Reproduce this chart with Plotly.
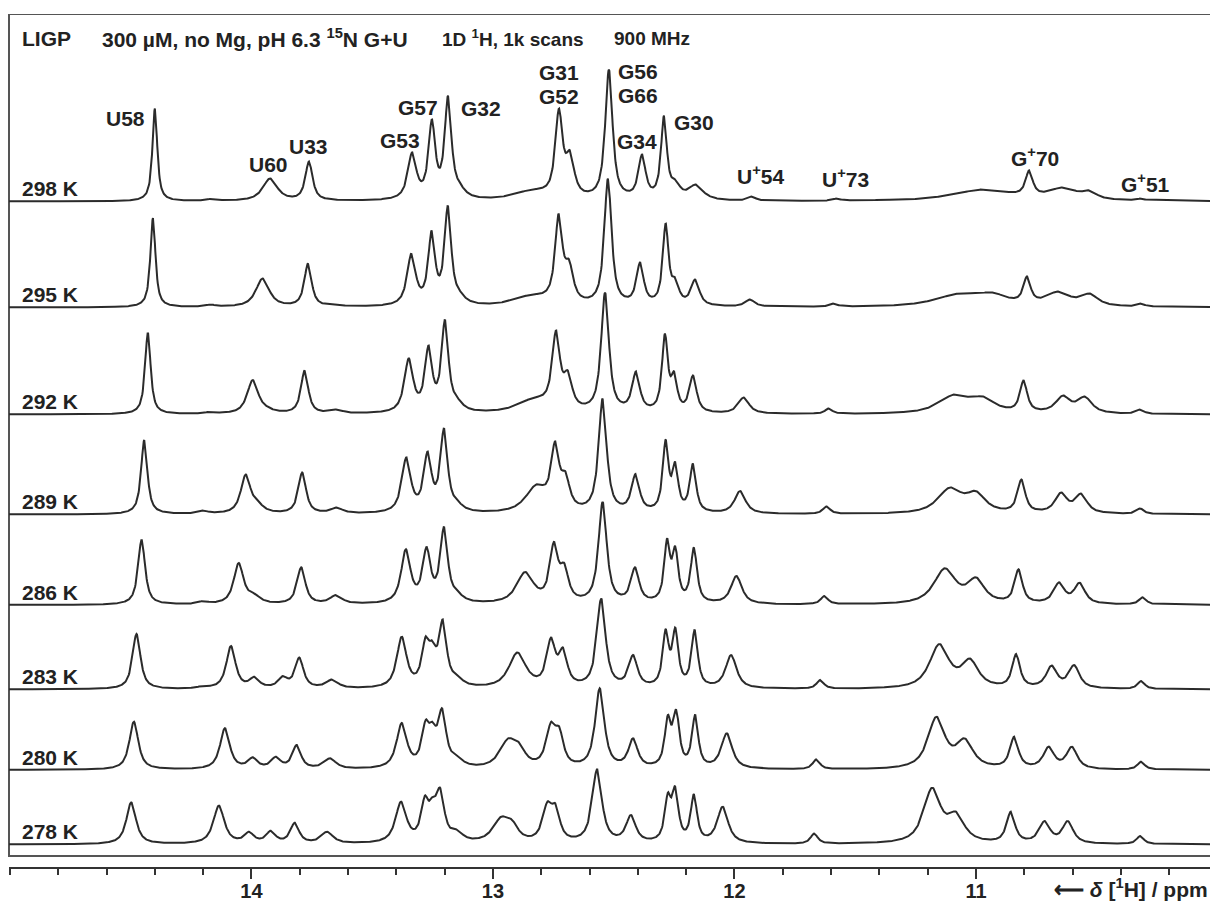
import numpy as np
import plotly.graph_objects as go

# ---------------- data: peak tables (ppm, apparent height above baseline, FWHM ppm) ----------------
temperatures = ["298 K", "295 K", "292 K", "289 K", "286 K", "283 K", "280 K", "278 K"]

peaks_298 = [
    (14.400, 93, 0.020), (14.160, 3, 0.040), (13.923, 23, 0.060), (13.762, 40, 0.030),
    (13.335, 49, 0.035), (13.253, 82, 0.028), (13.186, 106, 0.028), (13.140, 20, 0.050),
    (12.840, 12, 0.150), (12.727, 93, 0.030), (12.681, 51, 0.035), (12.520, 132, 0.030),
    (12.383, 47, 0.030), (12.292, 86, 0.024), (12.245, 22, 0.040), (12.160, 17, 0.060),
    (11.928, 5, 0.030), (11.576, 3, 0.030), (11.385, 2, 0.030), (10.970, 12, 0.250),
    (10.780, 31, 0.030), (10.640, 14, 0.120), (10.530, 11, 0.060), (10.317, 3, 0.030),
]
peaks_295 = [
    (14.408, 89.5, 0.021), (14.170, 3, 0.040), (13.954, 29, 0.055), (13.766, 44, 0.030),
    (13.650, 3, 0.050), (13.338, 54, 0.035), (13.254, 77, 0.028), (13.187, 101.5, 0.028),
    (13.140, 18, 0.050), (12.840, 13, 0.150), (12.728, 94, 0.030), (12.685, 48, 0.035),
    (12.524, 129, 0.030), (12.391, 45, 0.030), (12.285, 84, 0.024), (12.245, 30, 0.030),
    (12.163, 28, 0.035), (11.936, 8, 0.040), (11.588, 4, 0.030), (11.070, 14, 0.200),
    (10.930, 15, 0.120), (10.789, 31, 0.030), (10.660, 16, 0.100), (10.530, 14, 0.070),
    (10.317, 4, 0.030),
]
peaks_292 = [
    (14.429, 81.5, 0.023), (14.170, 3, 0.040), (13.995, 34.5, 0.045), (13.940, 9, 0.060),
    (13.780, 44, 0.030), (13.646, 5, 0.050), (13.349, 56, 0.036), (13.267, 69, 0.030),
    (13.199, 94.5, 0.029), (13.150, 18, 0.050), (12.830, 17, 0.140), (12.739, 84, 0.032),
    (12.690, 44, 0.035), (12.536, 122, 0.032), (12.408, 43, 0.032), (12.288, 81, 0.024),
    (12.250, 43, 0.025), (12.172, 39, 0.030), (11.962, 17, 0.045), (11.610, 6, 0.030),
    (11.090, 20, 0.130), (10.970, 18, 0.100), (10.803, 34, 0.030), (10.640, 19, 0.060),
    (10.550, 18, 0.060), (10.320, 5, 0.030),
]
peaks_289 = [
    (14.444, 74.5, 0.026), (14.200, 4, 0.040), (14.024, 40, 0.040), (13.975, 14, 0.050),
    (13.790, 42, 0.032), (13.647, 7, 0.050), (13.359, 57, 0.037), (13.271, 63, 0.032),
    (13.203, 86, 0.030), (13.150, 15, 0.050), (12.820, 30, 0.090), (12.743, 73, 0.033),
    (12.700, 43, 0.035), (12.546, 116, 0.033), (12.410, 40.5, 0.033), (12.285, 75, 0.024),
    (12.245, 53, 0.024), (12.172, 51, 0.026), (11.977, 23.5, 0.045), (11.619, 8, 0.030),
    (11.108, 27, 0.100), (11.000, 23.5, 0.080), (10.812, 35, 0.032), (10.648, 22, 0.050),
    (10.565, 21, 0.050), (10.320, 6, 0.030),
]
peaks_286 = [
    (14.455, 65, 0.029), (14.200, 4, 0.040), (14.053, 42, 0.040), (13.990, 12, 0.050),
    (13.794, 37.7, 0.034), (13.650, 10, 0.050), (13.361, 55.7, 0.038), (13.275, 58, 0.033),
    (13.203, 78, 0.031), (13.150, 15, 0.050), (12.867, 33, 0.070), (12.748, 63, 0.034),
    (12.705, 42, 0.035), (12.546, 103, 0.034), (12.412, 37.7, 0.034), (12.279, 66.7, 0.024),
    (12.245, 59, 0.024), (12.168, 57.7, 0.026), (11.992, 29, 0.045), (11.628, 9, 0.030),
    (11.129, 36.7, 0.090), (11.000, 27.7, 0.070), (10.824, 35.7, 0.032), (10.656, 22.7, 0.045),
    (10.571, 22.3, 0.045), (10.310, 7.7, 0.030),
]
peaks_283 = [
    (14.476, 55.5, 0.033), (14.200, 4, 0.040), (14.085, 43.5, 0.038), (13.988, 12.8, 0.040),
    (13.870, 13.5, 0.040), (13.802, 32, 0.035), (13.667, 10, 0.050), (13.378, 52.8, 0.040),
    (13.279, 52.8, 0.032), (13.250, 49, 0.030), (13.208, 70, 0.032), (13.150, 15, 0.050),
    (12.899, 37, 0.070), (12.760, 52, 0.036), (12.710, 42, 0.035), (12.552, 91, 0.036),
    (12.420, 34.5, 0.036), (12.285, 60.5, 0.025), (12.245, 62, 0.025), (12.165, 59.5, 0.026),
    (12.014, 34.5, 0.045), (11.645, 9.5, 0.030), (11.152, 45.5, 0.080), (11.025, 31, 0.070),
    (10.834, 35.5, 0.032), (10.687, 24, 0.045), (10.594, 24.5, 0.045), (10.316, 8.5, 0.030),
]
peaks_280 = [
    (14.487, 48.3, 0.037), (14.110, 41.7, 0.040), (13.995, 12.7, 0.040), (13.900, 13.3, 0.040),
    (13.813, 25, 0.036), (13.675, 11.7, 0.050), (13.378, 47, 0.042), (13.279, 50, 0.032),
    (13.250, 48.3, 0.030), (13.211, 61.7, 0.034), (13.150, 15, 0.050), (12.937, 31.7, 0.070),
    (12.890, 27, 0.050), (12.760, 48, 0.040), (12.725, 43, 0.035), (12.558, 81.7, 0.038),
    (12.420, 31.7, 0.038), (12.276, 55, 0.026), (12.241, 60.7, 0.026), (12.163, 55, 0.026),
    (12.032, 36.7, 0.045), (11.661, 10.7, 0.030), (11.164, 53.3, 0.070), (11.047, 31.7, 0.070),
    (10.842, 33.3, 0.035), (10.699, 23.3, 0.045), (10.603, 23.3, 0.045), (10.316, 8.3, 0.030),
]
peaks_278 = [
    (14.498, 42, 0.040), (14.135, 38.8, 0.045), (14.010, 12.8, 0.040), (13.920, 13.8, 0.040),
    (13.821, 21.8, 0.036), (13.687, 12.8, 0.050), (13.381, 42.8, 0.045), (13.282, 48.8, 0.032),
    (13.250, 47.8, 0.030), (13.219, 56.8, 0.035), (13.150, 15, 0.050), (12.966, 27.8, 0.070),
    (12.920, 24.5, 0.050), (12.775, 42.8, 0.040), (12.740, 40.5, 0.035), (12.569, 75, 0.040),
    (12.429, 29.5, 0.040), (12.276, 51.8, 0.026), (12.245, 58.5, 0.026), (12.168, 50.5, 0.026),
    (12.049, 37.8, 0.045), (11.670, 11, 0.030), (11.182, 56.8, 0.070), (11.083, 32.8, 0.070),
    (10.856, 32.8, 0.035), (10.716, 23.5, 0.045), (10.620, 23.5, 0.045), (10.320, 8.5, 0.030),
]
peak_tables = [peaks_298, peaks_295, peaks_292, peaks_289, peaks_286, peaks_283, peaks_280, peaks_278]

# stacking offsets of each trace's baseline (plot height units)
baseline_offsets = [665.5, 559.5, 452.5, 352.5, 262.0, 177.5, 97.0, 22.5]

# peak assignment labels: (text, ppm, height)
peak_labels = [
    ("U58", 14.523, 749), ("U60", 13.928, 703), ("U33", 13.762, 721),
    ("G53", 13.385, 727), ("G57", 13.311, 760), ("G32", 13.050, 759),
    ("G31", 12.727, 795), ("G52", 12.727, 771), ("G56", 12.400, 796),
    ("G66", 12.400, 772), ("G34", 12.404, 726), ("G30", 12.168, 745),
    ("U<sup>+</sup>54", 11.894, 692), ("U<sup>+</sup>73", 11.542, 689),
    ("G<sup>+</sup>70", 10.756, 710), ("G<sup>+</sup>51", 10.300, 684),
]
# header: (text, ppm of left edge, font size)
header_texts = [
    ("LIGP", 14.958, 21), ("300 µM, no Mg, pH 6.3 <sup>15</sup>N G+U", 14.627, 21),
    ("1D <sup>1</sup>H, 1k scans", 13.219, 19), ("900 MHz", 12.507, 19),
]
axis_title = "⟵ <i>δ</i> [<sup>1</sup>H] / ppm"
major_ticks = [14, 13, 12, 11]
minor_ticks = [15.0, 14.8, 14.6, 14.4, 14.2, 13.8, 13.6, 13.4, 13.2, 12.8, 12.6, 12.4, 12.2,
               11.8, 11.6, 11.4, 11.2, 10.8, 10.6, 10.4, 10.2]

# ---------------- line shape (pseudo-Voigt) ----------------
ETA = 0.85
WIDTH_SCALE = 1.2


def shape(x, x0, w):
    d = (x - x0) / (w * WIDTH_SCALE / 2.0)
    return ETA / (1.0 + d * d) + (1 - ETA) * np.exp(-np.log(2) * d * d)


def spectrum(table, x):
    pos = np.array([p[0] for p in table])
    hgt = np.array([p[1] for p in table], dtype=float)
    wid = np.array([p[2] for p in table])
    A = shape(pos[:, None], pos[None, :], wid[None, :])
    amp = hgt.copy()
    for _ in range(800):
        amp = np.clip(amp + 0.4 * (hgt - A @ amp), 0, None)
    return (amp[None, :] * shape(x[:, None], pos[None, :], wid[None, :])).sum(axis=1)


ppm = np.arange(10.02, 15.006, 0.002)

FONT = "Liberation Sans, Arial, Helvetica, sans-serif"
LINE = "#2b2b2b"
TXT = "#222222"

fig = go.Figure()
for table, off in zip(peak_tables, baseline_offsets):
    fig.add_trace(go.Scatter(x=ppm, y=off + spectrum(table, ppm), mode="lines",
                             line=dict(color=LINE, width=2), hoverinfo="skip", showlegend=False))

ann = []
for t, off in zip(temperatures, baseline_offsets):
    ann.append(dict(x=14.958, xref="x", y=off + 13, yref="y", text=t, xanchor="left",
                    yanchor="middle", size=21))
for t, xp, yp in peak_labels:
    ann.append(dict(x=xp, xref="x", y=yp, yref="y", text=t, xanchor="center",
                    yanchor="middle", size=21))
for t, xp, fs in header_texts:
    ann.append(dict(x=xp, xref="x", y=829, yref="y", text=t, xanchor="left",
                    yanchor="middle", size=fs))
ann.append(dict(x=1.0, xref="paper", y=-0.0246, yref="paper", text=axis_title,
                xanchor="right", yanchor="middle", size=21))
for a in ann:
    a["showarrow"] = False
    a["font"] = dict(family=FONT, size=a.pop("size"), color=TXT, weight="bold")

fig.update_layout(
    width=1210, height=906,
    margin=dict(l=9, r=0, t=14, b=39, autoexpand=False),
    paper_bgcolor="white", plot_bgcolor="white",
    annotations=ann,
    shapes=[dict(type="rect", xref="paper", yref="y", x0=0, x1=1.01, y0=11, y1=853,
                 line=dict(color="#555555", width=2), layer="below")],
    xaxis=dict(range=[15.004, 10.031], showgrid=False, zeroline=False,
               showline=True, linecolor="#333333", linewidth=2,
               ticks="outside", ticklen=10, tickwidth=1.5, tickcolor="#333333",
               tickvals=major_ticks, ticktext=[str(v) for v in major_ticks],
               tickfont=dict(family=FONT, size=20, color=TXT, weight="bold"),
               ticklabelstandoff=-5, automargin=False,
               minor=dict(tickvals=minor_ticks, ticks="outside", ticklen=6,
                          tickwidth=1.5, tickcolor="#333333", showgrid=False)),
    yaxis=dict(range=[0, 853], visible=False, showgrid=False, zeroline=False),
)

fig.write_html("out.html", config={"displayModeBar": False},
               post_script="document.body.style.margin='0px';document.body.style.overflow='hidden';")
